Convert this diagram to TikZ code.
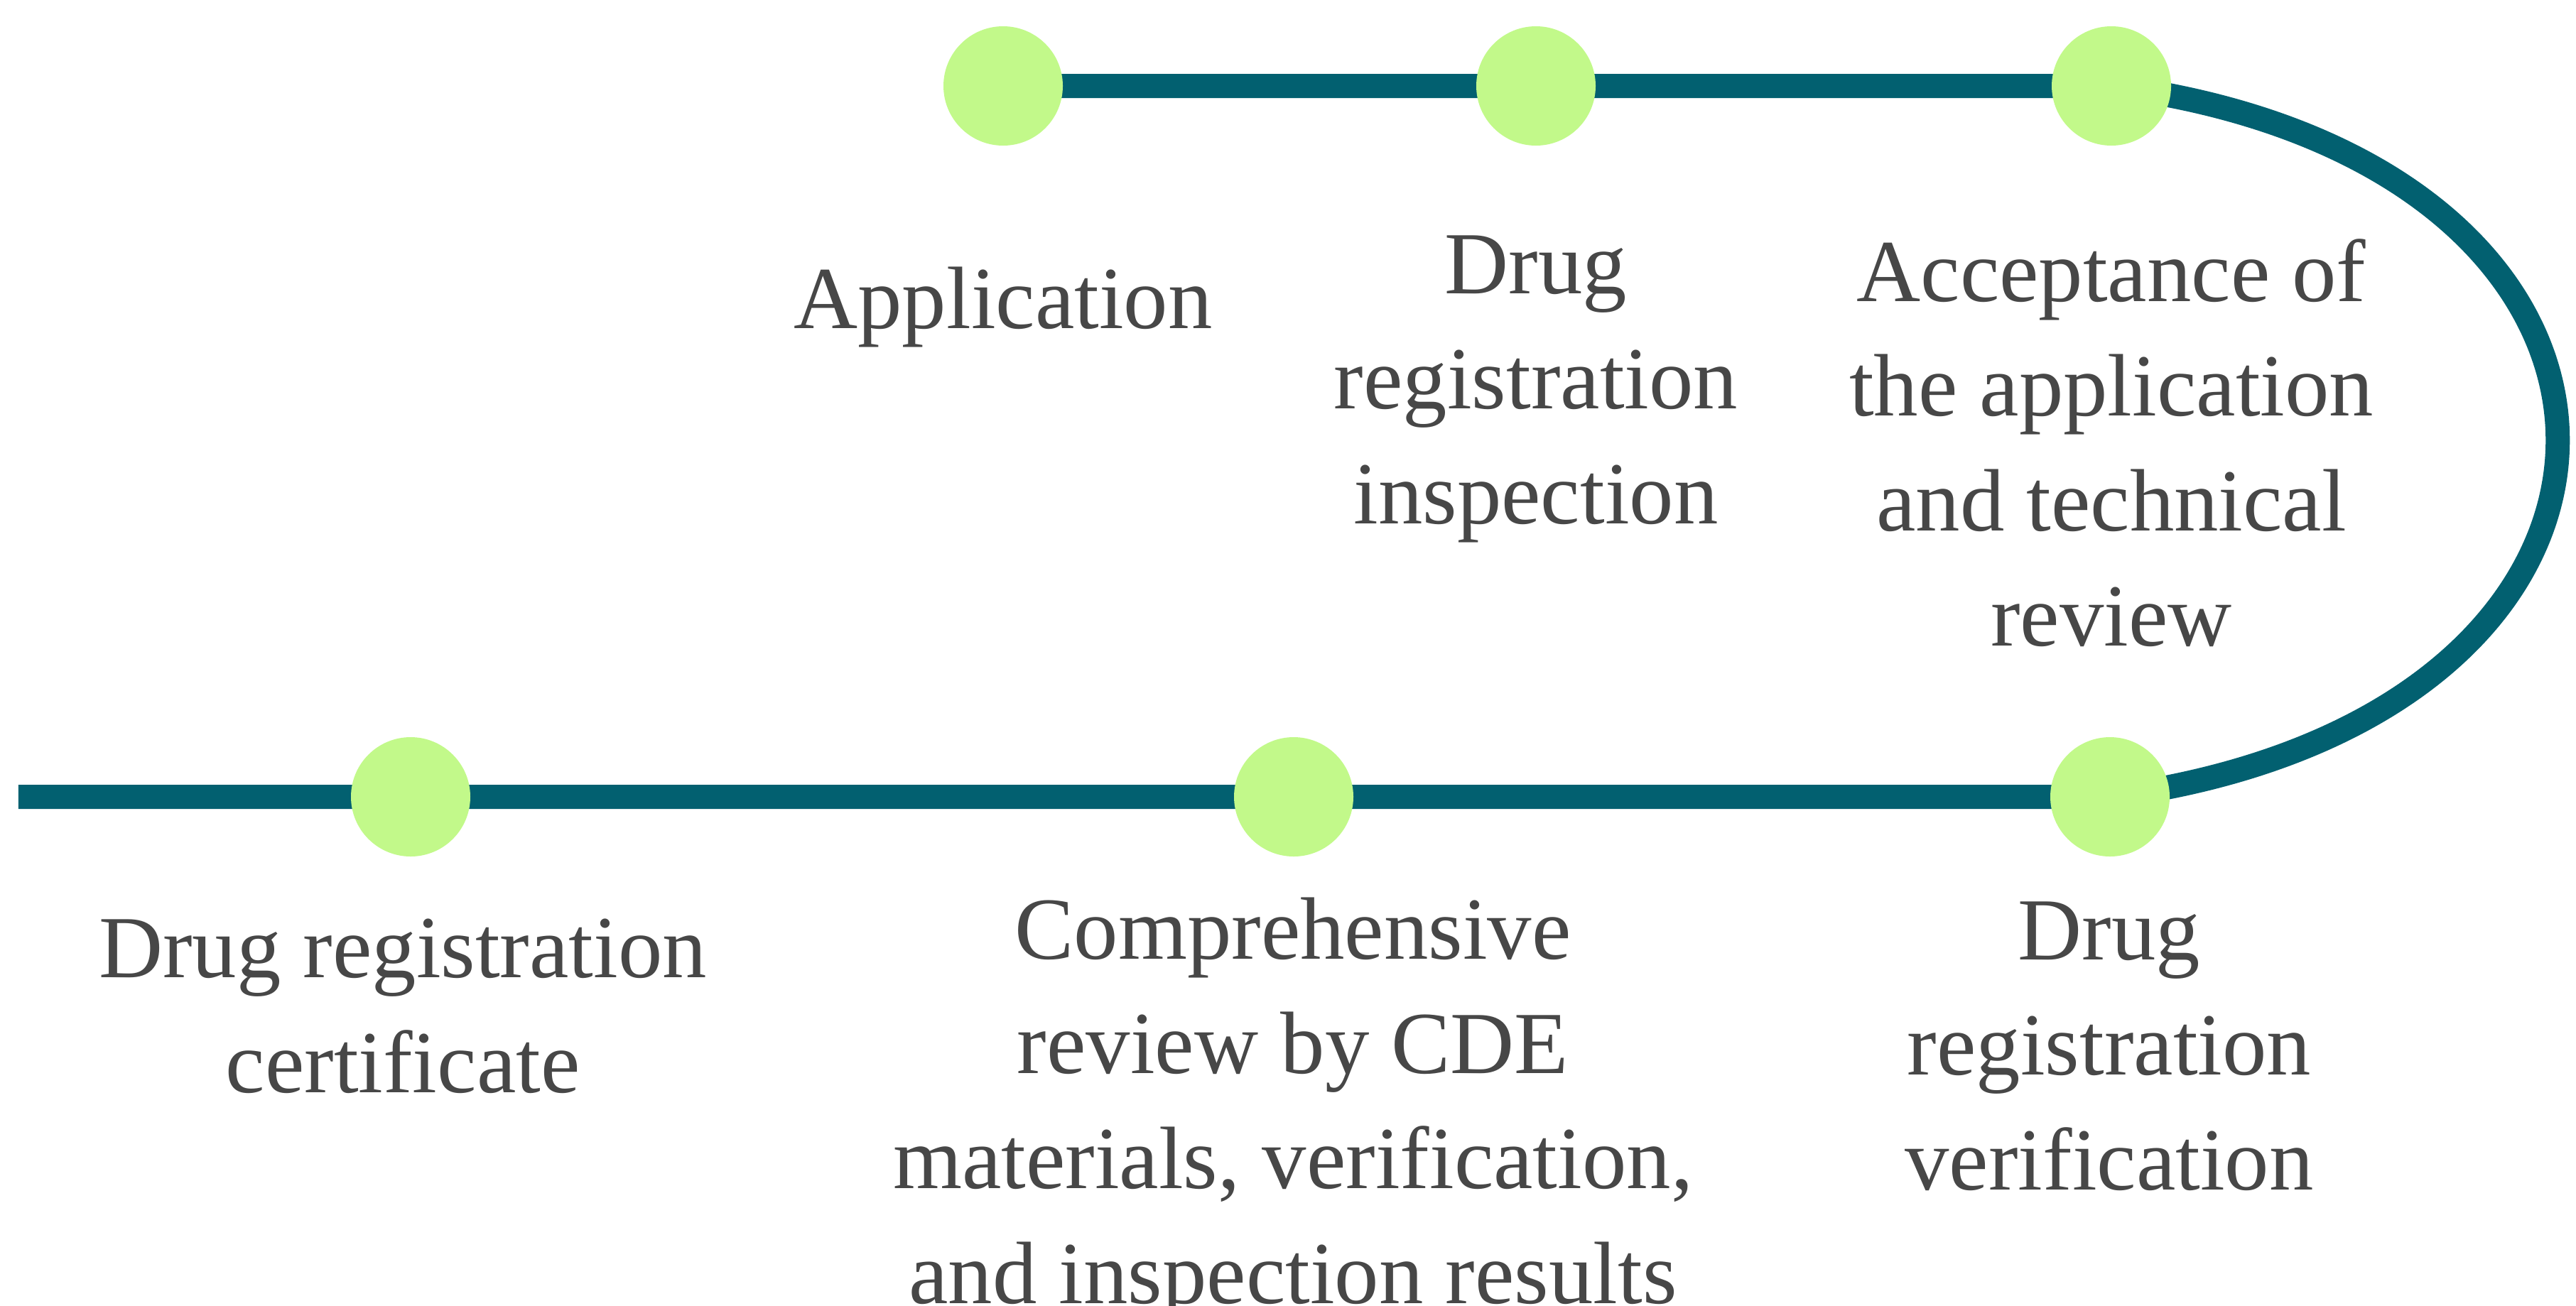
\documentclass[tikz,border=0pt]{standalone}
\usepackage{fontspec}
\setmainfont{Liberation Serif}
\usepackage{xcolor}
\usepackage{tikz}
\usetikzlibrary{positioning}
\definecolor{trackteal}{RGB}{2, 96, 112}
\definecolor{dotgreen}{RGB}{194, 249, 138}
\definecolor{textgray}{RGB}{71, 71, 71}

\begin{document}
\begin{tikzpicture}[
    dot/.style={circle, fill=dotgreen, minimum size=1.68cm, inner sep=0pt},
    steplabel/.style={align=center, anchor=base, inner sep=0pt, text=textgray, font=\fontsize{35.5}{46}\selectfont},
    track/.style={draw=trackteal, line width=0.34cm}
]
\useasboundingbox (0,0) rectangle (36.26,-18.38);

% Milestones
\coordinate (apply) at (14.12,-1.21);
\coordinate (inspect) at (21.62,-1.21);
\coordinate (accept) at (29.72,-1.21);
\coordinate (verify) at (29.70,-11.22);
\coordinate (review) at (18.21,-11.22);
\coordinate (certify) at (5.78,-11.22);
\coordinate (start) at (0.26,-11.22);

% Track
\draw[track] (apply) -- (inspect) -- (accept)
    .. controls (38.10,-2.30) and (38.10,-10.10) .. (verify)
    -- (review) -- (certify) -- (start);

% Dots
\node[dot] (applyDot) at (apply) {};
\node[dot] (inspectDot) at (inspect) {};
\node[dot] (acceptDot) at (accept) {};
\node[dot] (verifyDot) at (verify) {};
\node[dot] (reviewDot) at (review) {};
\node[dot] (certifyDot) at (certify) {};

% Labels (base = baseline of the last line)
\node[steplabel] (applyText) at (14.12,-4.62) {Application};
\node[steplabel] (inspectText) at (21.62,-7.37) {Drug\\registration\\inspection};
\node[steplabel] (acceptText) at (29.72,-9.09) {Acceptance of\\the application\\and technical\\review};
\node[steplabel] (certifyText) at (5.67,-15.38) {Drug registration\\certificate};
\node[steplabel] (reviewText) at (18.20,-18.35) {Comprehensive\\review by CDE\\materials, verification,\\and inspection results};
\node[steplabel] (verifyText) at (29.69,-16.75) {Drug\\registration\\verification};
\end{tikzpicture}
\end{document}
